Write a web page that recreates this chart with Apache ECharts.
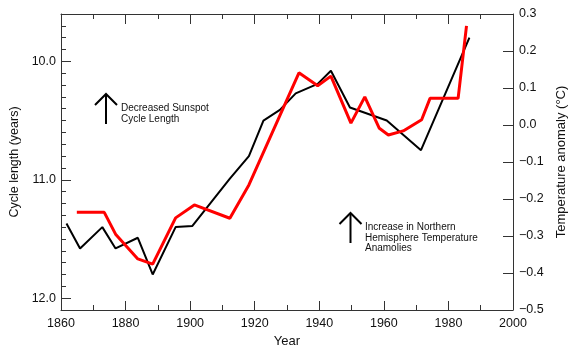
<!DOCTYPE html>
<html>
<head>
<meta charset="utf-8">
<script src="https://cdn.jsdelivr.net/npm/echarts@6/dist/echarts.min.js"></script>
<style>html,body{margin:0;padding:0;background:#fff;}#chart{width:577px;height:350px;}</style>
</head>
<body>
<div id="chart"></div>
<script>
// Sunspot cycle length (years), plotted on inverted left axis
var cycleYears = [1861.7, 1865.9, 1872.8, 1876.9, 1883.8, 1888.4, 1895.5, 1900.7, 1912.3, 1918.2, 1922.7, 1927.8, 1932.7, 1939.5, 1943.6, 1949.5, 1960.9, 1971.5, 1986.5];
var cycleLength = [11.37, 11.58, 11.40, 11.58, 11.49, 11.80, 11.40, 11.39, 10.99, 10.80, 10.50, 10.41, 10.27, 10.19, 10.08, 10.39, 10.50, 10.75, 9.80];
// Northern hemisphere temperature anomaly (°C), right axis
var tempYears = [1864.9, 1873.4, 1876.9, 1883.8, 1888.4, 1895.5, 1901.3, 1912.3, 1918.2, 1933.7, 1939.5, 1943.6, 1949.8, 1954.1, 1958.6, 1961.4, 1966.0, 1971.7, 1974.3, 1983.0, 1985.6];
var tempAnomaly = [-0.236, -0.236, -0.295, -0.362, -0.376, -0.251, -0.216, -0.252, -0.162, 0.141, 0.106, 0.132, 0.005, 0.076, -0.009, -0.027, -0.016, 0.014, 0.072, 0.072, 0.268];
// Tick values
var cycleMajorTicks = [10, 11, 12];
var cycleMinorTicks = [9.7, 9.8, 9.9, 10.1, 10.2, 10.3, 10.4, 10.5, 10.6, 10.7, 10.8, 10.9, 11.1, 11.2, 11.3, 11.4, 11.5, 11.6, 11.7, 11.8, 11.9];
var annotation1 = ['Decreased Sunspot', 'Cycle Length'];
var annotation2 = ['Increase in Northern', 'Hemisphere Temperature', 'Anamolies'];

function zip(a, b) { return a.map(function (v, i) { return [v, b[i]]; }); }

var FONT = '"Liberation Sans", Arial, Helvetica, sans-serif';
var AX = '#333';
var chart = echarts.init(document.getElementById('chart'), null, {renderer: 'canvas'});
chart.setOption({
  animation: false,
  backgroundColor: '#fff',
  textStyle: {fontFamily: FONT, color: '#111'},
  grid: {left: 61, right: 64, top: 14, bottom: 40, containLabel: false, outerBoundsMode: 'none'},
  xAxis: [{
    type: 'value', position: 'bottom', min: 1860, max: 2000, interval: 20,
    name: 'Year', nameLocation: 'middle', nameGap: 23,
    nameTextStyle: {fontSize: 13, color: '#111', fontFamily: FONT},
    axisLine: {show: true, onZero: false, lineStyle: {color: AX, width: 1}},
    axisTick: {show: true, inside: true, length: 9, lineStyle: {color: AX}},
    minorTick: {show: true, splitNumber: 2, length: 5, lineStyle: {color: AX}},
    axisLabel: {fontSize: 12.5, color: '#111', margin: 7, fontFamily: FONT,
      formatter: function (v) { return String(Math.round(v)); }},
    splitLine: {show: false}
  }, {
    type: 'value', position: 'top', min: 1860, max: 2000, interval: 20,
    axisLine: {show: true, onZero: false, lineStyle: {color: AX, width: 1}},
    axisTick: {show: true, inside: true, length: 10, lineStyle: {color: AX}},
    minorTick: {show: true, splitNumber: 2, length: 5, lineStyle: {color: AX}},
    axisLabel: {show: false},
    splitLine: {show: false}
  }],
  yAxis: [{
    type: 'value', position: 'left', inverse: true, min: 9.6, max: 12.1,
    name: 'Cycle length (years)', nameLocation: 'middle', nameGap: 38, nameRotate: 90,
    nameTextStyle: {fontSize: 12.5, color: '#111', fontFamily: FONT},
    axisLine: {show: true, onZero: false, lineStyle: {color: AX, width: 1}},
    axisTick: {show: true, inside: true, length: 5, customValues: cycleMinorTicks, lineStyle: {color: AX}},
    axisLabel: {fontSize: 12.5, color: '#111', margin: 5, customValues: cycleMajorTicks, fontFamily: FONT,
      formatter: function (v) { return Number(v).toFixed(1); }},
    splitLine: {show: false}
  }, {
    type: 'value', position: 'right', min: -0.5, max: 0.3, interval: 0.1,
    name: 'Temperature anomaly (°C)', nameLocation: 'middle', nameGap: 41, nameRotate: 90,
    nameTextStyle: {fontSize: 13, color: '#111', fontFamily: FONT},
    axisLine: {show: true, onZero: false, lineStyle: {color: AX, width: 1}},
    axisTick: {show: true, inside: true, length: 10, lineStyle: {color: AX}},
    axisLabel: {fontSize: 12.5, color: '#111', margin: 6, fontFamily: FONT,
      formatter: function (v) { var r = Math.round(v * 10) / 10; return (r < 0 ? '\u2212' : '') + Math.abs(r).toFixed(1); }},
    splitLine: {show: false}
  }, {
    type: 'value', position: 'left', inverse: true, min: 9.6, max: 12.1,
    axisLine: {show: false},
    axisTick: {show: true, inside: true, length: 10, customValues: cycleMajorTicks, lineStyle: {color: AX}},
    axisLabel: {show: false},
    splitLine: {show: false}
  }],
  series: [{
    type: 'line', xAxisIndex: 0, yAxisIndex: 0, data: zip(cycleYears, cycleLength),
    symbol: 'none', lineStyle: {color: '#000', width: 2}, z: 3
  }, {
    type: 'line', xAxisIndex: 1, yAxisIndex: 1, data: zip(tempYears, tempAnomaly),
    symbol: 'none', lineStyle: {color: '#ff0000', width: 3}, z: 4
  }],
  graphic: [
    {type: 'polyline', shape: {points: [[106, 124], [106, 94]]}, style: {stroke: '#000', lineWidth: 2, fill: null}},
    {type: 'polyline', shape: {points: [[95, 105], [106, 94], [117, 105]]}, style: {stroke: '#000', lineWidth: 2, fill: null}},
    {type: 'text', x: 121, y: 103, style: {text: annotation1.join('\n'), fill: '#111', font: '10px ' + FONT, lineHeight: 10.5, verticalAlign: 'top', align: 'left'}},
    {type: 'polyline', shape: {points: [[350.5, 243], [350.5, 213]]}, style: {stroke: '#000', lineWidth: 2, fill: null}},
    {type: 'polyline', shape: {points: [[339.5, 224], [350.5, 213], [361.5, 224]]}, style: {stroke: '#000', lineWidth: 2, fill: null}},
    {type: 'text', x: 365, y: 222, style: {text: annotation2.join('\n'), fill: '#111', font: '10px ' + FONT, lineHeight: 10.5, verticalAlign: 'top', align: 'left'}}
  ]
});
</script>
</body>
</html>
